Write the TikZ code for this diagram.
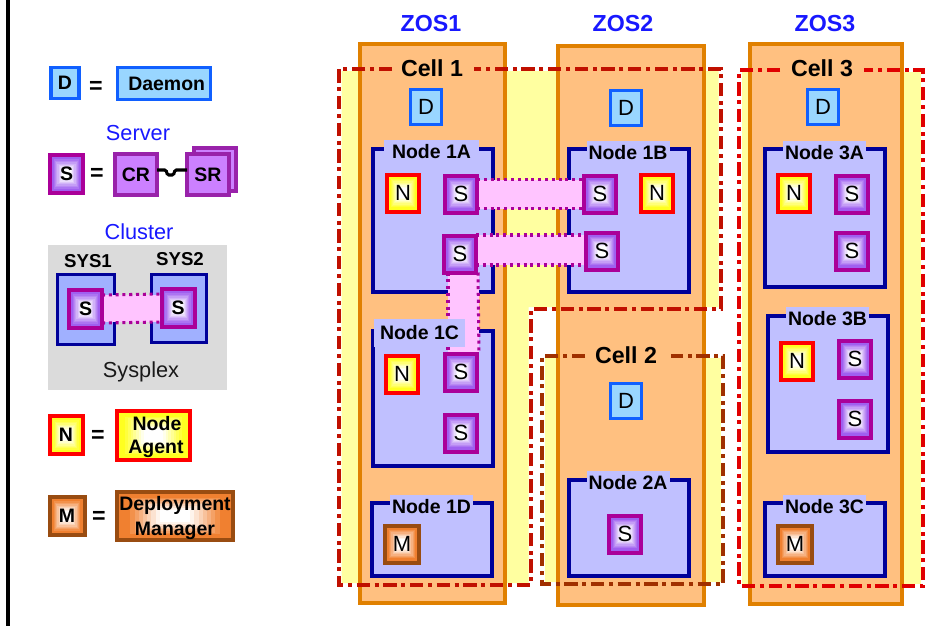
\documentclass[tikz,border=0pt]{standalone}
\usepackage{fontspec}
\setmainfont{Liberation Sans}
\usetikzlibrary{calc}
\pgfdeclarelayer{back}
\pgfdeclarelayer{mid}
\pgfdeclarelayer{grad}
\pgfsetlayers{back,mid,grad,main}
\definecolor{zfill}{HTML}{FFC080}
\definecolor{zline}{HTML}{E08000}
\definecolor{yel}{HTML}{FFFFA0}
\definecolor{cone}{HTML}{C01000}
\definecolor{ctwo}{HTML}{A03000}
\definecolor{cthree}{HTML}{E00000}
\definecolor{nfill}{HTML}{C0C0FF}
\definecolor{nline}{HTML}{000099}
\definecolor{dfill}{HTML}{99D6FF}
\definecolor{dline}{HTML}{1060FF}
\definecolor{sline}{HTML}{AA0099}
\definecolor{souter}{HTML}{A060F0}
\definecolor{pinkc}{HTML}{FFC4FF}
\definecolor{mline}{HTML}{994C11}
\definecolor{mouter}{HTML}{F08030}
\definecolor{nouter}{HTML}{FFFF20}
\definecolor{blu}{HTML}{1818FF}
\definecolor{crfill}{HTML}{CC80FF}
\definecolor{crline}{HTML}{9922AA}
\definecolor{sysfill}{HTML}{A0B0FF}
\newcommand{\fsA}{\fontsize{16.5pt}{18pt}\selectfont}
\newcommand{\fsB}{\fontsize{14.6pt}{18pt}\selectfont}
\newcommand{\fsC}{\fontsize{17.4pt}{18pt}\selectfont}
\newcommand{\fsD}{\fontsize{16.3pt}{18pt}\selectfont}
\tikzset{
  x=0.75pt,y=-0.75pt,
  base/.style={inner sep=0pt,outer sep=0pt,line width=2.4pt,font=\fsA,text=black},
  dbox/.style={base,draw=dline,fill=dfill,minimum width=31*.75pt,minimum height=35*.75pt},
  sbox/.style={base,line width=3pt,draw=sline,minimum width=32*.75pt,minimum height=37*.75pt},
  nbox/.style={base,line width=3pt,draw=red,minimum width=32*.75pt,minimum height=37*.75pt},
  mbox/.style={base,line width=3pt,draw=mline,minimum width=34*.75pt,minimum height=37*.75pt},
  zos/.style={draw=zline,fill=zfill,line width=2.6pt},
  zlabel/.style={inner sep=0pt,font=\fsC\bfseries,text=blu},
  celldash/.style={line width=2.6pt,dash pattern=on 10pt off 3.5pt on 3pt off 3.5pt},
  celllabel/.style={inner sep=0pt,font=\fsC\bfseries},
  nodebox/.style={draw=nline,fill=nfill,line width=2.4pt,inner sep=0pt},
  nodelabel/.style={fill=nfill,inner sep=0pt,font=\fsB\bfseries,minimum width=83*.75pt,minimum height=25*.75pt},
  boldtext/.style={inner sep=0pt,font=\fsB\bfseries,align=center},
  eqsign/.style={inner sep=0pt,font=\fsC\bfseries},
  bluetext/.style={inner sep=0pt,font=\fsD,text=blu},
  link/.style={fill=pinkc},
  linkedge/.style={draw=sline,line width=2.3pt,dash pattern=on 2.3pt off 2.8pt},
  legd/.style={dbox,font=\fsB\bfseries,minimum width=28*.75pt,minimum height=31*.75pt},
  legs/.style={sbox,font=\fsB\bfseries,minimum width=33*.75pt,minimum height=38*.75pt},
  legn/.style={nbox,font=\fsB\bfseries,minimum width=33*.75pt,minimum height=38*.75pt},
  legm/.style={mbox,font=\fsB\bfseries,minimum width=35*.75pt,minimum height=38*.75pt},
  crbox/.style={base,line width=3pt,draw=crline,fill=crfill,font=\fsB\bfseries,minimum width=42*.75pt,minimum height=41*.75pt},
}
\begin{document}
\begin{tikzpicture}
\useasboundingbox (0,0) rectangle (945,626);
% left rule
\draw[line width=2.3pt] (8,0) -- (8,626);

% ---------- containers
\begin{pgfonlayer}{back}
  \fill[yel] (341.5,71) -- (718.5,71) -- (718.5,307) -- (528.5,307) -- (528.5,583) -- (341.5,583) -- cycle;
  \fill[yel] (544.5,358) rectangle (720.5,582);
  \fill[yel] (741.5,72) rectangle (920.5,584);
  \draw[zos] (360,44) rectangle (505,603);
  \draw[zos] (558,46) rectangle (704,605);
  \draw[zos] (750,44) rectangle (902,604);
  \draw[celldash,cone] (392,69) -- (339,69) -- (339,585) -- (531,585) -- (531,309) -- (721,309) -- (721,69) -- (474,69);
  \draw[celldash,ctwo] (585,356) -- (542,356) -- (542,584) -- (723,584) -- (723,356) -- (671,356);
  \draw[celldash,cthree] (780,70) -- (739,70) -- (739,586) -- (923,586) -- (923,70) -- (864,70);
  \fill[gray!28] (48,245) rectangle (227,390);
  \node[nodebox,minimum width=120*.75pt,minimum height=143*.75pt] (n1a) at (433,220.5) {};
  \node[nodebox,minimum width=120*.75pt,minimum height=143*.75pt] (n1b) at (629,220.5) {};
  \node[nodebox,minimum width=120*.75pt,minimum height=135*.75pt] (n1c) at (433,398.5) {};
  \node[nodebox,minimum width=120*.75pt,minimum height=73*.75pt] (n1d) at (432,539.5) {};
  \node[nodebox,minimum width=120*.75pt,minimum height=96*.75pt] (n2a) at (629,528) {};
  \node[nodebox,minimum width=120*.75pt,minimum height=138*.75pt] (n3a) at (825,218) {};
  \node[nodebox,minimum width=120*.75pt,minimum height=136*.75pt] (n3b) at (828,384) {};
  \node[nodebox,minimum width=120*.75pt,minimum height=73*.75pt] (n3c) at (825,539.5) {};
  \node[nodebox,fill=sysfill,minimum width=57*.75pt,minimum height=70*.75pt] (sys1) at (86,309.5) {};
  \node[nodebox,fill=sysfill,minimum width=55*.75pt,minimum height=68*.75pt] (sys2) at (179,308.5) {};
\end{pgfonlayer}

% ---------- column and cell titles
\node[zlabel] (z1) at (431,24) {ZOS1};
\node[zlabel] (z2) at (623,24) {ZOS2};
\node[zlabel] (z3) at (825,24) {ZOS3};
\node[celllabel] (c1) at (432,68) {Cell 1};
\node[celllabel] (c2) at (626,355) {Cell 2};
\node[celllabel] (c3) at (822,68) {Cell 3};

% ---------- daemons
\node[dbox] (d1) at (426,107) {D};
\node[dbox] (d2) at (626,108) {D};
\node[dbox] (d3) at (626,401) {D};
\node[dbox] (d4) at (823,107) {D};

% ---------- node labels
\node[nodelabel,minimum width=95*.75pt] (l1a) at (431.5,152) {Node 1A};
\node[nodelabel] (l1b) at (628,153) {Node 1B};
\node[nodelabel,minimum width=91*.75pt,minimum height=28*.75pt] (l1c) at (419.5,333) {Node 1C};
\node[nodelabel] (l1d) at (431.5,507) {Node 1D};
\node[nodelabel] (l2a) at (628,483) {Node 2A};
\node[nodelabel] (l3a) at (824.5,153) {Node 3A};
\node[nodelabel] (l3b) at (827.5,319) {Node 3B};
\node[nodelabel] (l3c) at (824.5,507) {Node 3C};

% ---------- servers and agents
\node[sbox] (s1) at (461,194) {S};
\node[sbox] (s2) at (460,254) {S};
\node[sbox] (s3) at (600,194) {S};
\node[sbox] (s4) at (602,251) {S};
\node[sbox] (s5) at (461,372) {S};
\node[sbox] (s6) at (461,433) {S};
\node[sbox] (s7) at (625,534) {S};
\node[sbox] (s8) at (852,194) {S};
\node[sbox] (s9) at (852,251) {S};
\node[sbox] (s10) at (855,359) {S};
\node[sbox] (s11) at (855,419) {S};
\node[nbox] (a1) at (403,193) {N};
\node[nbox] (a2) at (657,193) {N};
\node[nbox] (a3) at (402,374) {N};
\node[nbox] (a4) at (794,193) {N};
\node[nbox] (a5) at (797,361) {N};
\node[mbox] (m1) at (402,544) {M};
\node[mbox] (m2) at (795,544) {M};

% ---------- legend
\node[legd] (ld) at (65,83) {D};
\node[eqsign] (eq1) at (96,87) {=};
\node[dbox,font=\fsB\bfseries,minimum width=93*.75pt,minimum height=32*.75pt] (ldaemon) at (164,83.5) {\hspace*{4pt}Daemon};
\node[bluetext] (tserver) at (138,133) {Server};
\node[legs] (ls) at (66.5,174) {S};
\node[eqsign] (eq2) at (97,174) {=};
\node[crbox] (cr) at (136,174.5) {CR};
\node[base,line width=3pt,draw=crline,fill=crfill,minimum width=42*.75pt,minimum height=43*.75pt] (srb) at (215,169.5) {};
\node[crbox] (sr) at (208,174.5) {SR};
\draw[line width=2.3pt,rounded corners=1pt] (cr.east |- 0,170) -- ++(9,0) -- ++(1.5,5) -- ++(6,0) -- ++(1.5,-5) -- (sr.west |- 0,170);
\node[bluetext] (tcluster) at (139,232) {Cluster};
\node[boldtext,font=\fontsize{14pt}{16pt}\selectfont\bfseries] (tsys1) at (88,261) {SYS1};
\node[boldtext,font=\fontsize{14pt}{16pt}\selectfont\bfseries] (tsys2) at (180,259) {SYS2};
\node[legs] (ls1) at (85.5,309) {S};
\node[legs] (ls2) at (178,308) {S};
\node[inner sep=0pt,font=\fsD,text=black!90] (tsysplex) at (141,372) {Sysplex};
\node[legn] (ln) at (66,435) {N};
\node[eqsign] (eq3) at (98,436) {=};
\node[base,line width=3pt,draw=red,minimum width=73*.75pt,minimum height=49*.75pt] (lnode) at (153.5,435.5) {};
\node[boldtext] (tna1) at (157,423.5) {Node};
\node[boldtext] (tna2) at (156,448.5) {Agent};
\node[legm] (lm) at (67,516) {M};
\node[eqsign] (eq4) at (99,517) {=};
\node[base,line width=3pt,draw=mline,minimum width=116*.75pt,minimum height=48*.75pt] (ldm) at (175,516) {};
\node[boldtext] (tdm1) at (175,505.5) {Deployment};
\node[boldtext] (tdm2) at (175,530.5) {Manager};

% ---------- graded fills under the framed boxes
\begin{pgfonlayer}{grad}
  \foreach \nm/\cl in {s1/souter,s2/souter,s3/souter,s4/souter,s5/souter,s6/souter,s7/souter,s8/souter,s9/souter,s10/souter,s11/souter,ls/souter,ls1/souter,ls2/souter,a1/nouter,a2/nouter,a3/nouter,a4/nouter,a5/nouter,ln/nouter,lnode/nouter,m1/mouter,m2/mouter,lm/mouter,ldm/mouter}{
    \foreach \st in {0,...,10}{
      \pgfmathsetmacro\frc{0.08+\st*0.036}
      \pgfmathtruncatemacro\pct{max(0,100-\st*13)}
      \colorlet{gradstep}{\cl!\pct!white}
      \ifnum\st=0
        \fill[gradstep] (\nm.south west) rectangle (\nm.north east);
      \else
        \fill[gradstep] ($(\nm.south west)!\frc!(\nm.north east)$) rectangle ($(\nm.north east)!\frc!(\nm.south west)$);
      \fi
    }
  }
\end{pgfonlayer}

% ---------- cluster links
\begin{pgfonlayer}{mid}
  \fill[link] ($(s1.east)+(0,-14.5)$) rectangle ($(s3.west)+(0,14.5)$);
  \draw[linkedge] ($(s1.east)+(0,-14.5)$) -- ($(s3.west)+(0,-14.5)$);
  \draw[linkedge] ($(s1.east)+(0,14.5)$) -- ($(s3.west)+(0,14.5)$);
  \fill[link] ($(s2.east)+(0,-19)$) rectangle ($(s4.west)+(0,14)$);
  \draw[linkedge] ($(s2.east)+(0,-19)$) -- ($(s4.west)+(0,-16)$);
  \draw[linkedge] ($(s2.east)+(0,11)$) -- ($(s4.west)+(0,14)$);
  \draw[linkedge] ($(s4.west)+(0,-16)$) -- ($(s4.west)+(0,14)$);
  \fill[link] ($(s2.south)+(-12,0)$) rectangle ($(s5.north)+(18,0)$);
  \draw[linkedge] ($(s2.south)+(-12,0)$) -- ($(s5.north)+(-13,0)$);
  \draw[linkedge] ($(s2.south)+(18,0)$) -- ($(s5.north)+(18,0)$);
  \fill[link] ($(ls1.east)+(0,-14)$) rectangle ($(ls2.west)+(0,14)$);
  \draw[linkedge] ($(ls1.east)+(0,-14)$) -- ($(ls2.west)+(0,-14)$);
  \draw[linkedge] ($(ls1.east)+(0,14)$) -- ($(ls2.west)+(0,14)$);
\end{pgfonlayer}
\end{tikzpicture}
\end{document}
